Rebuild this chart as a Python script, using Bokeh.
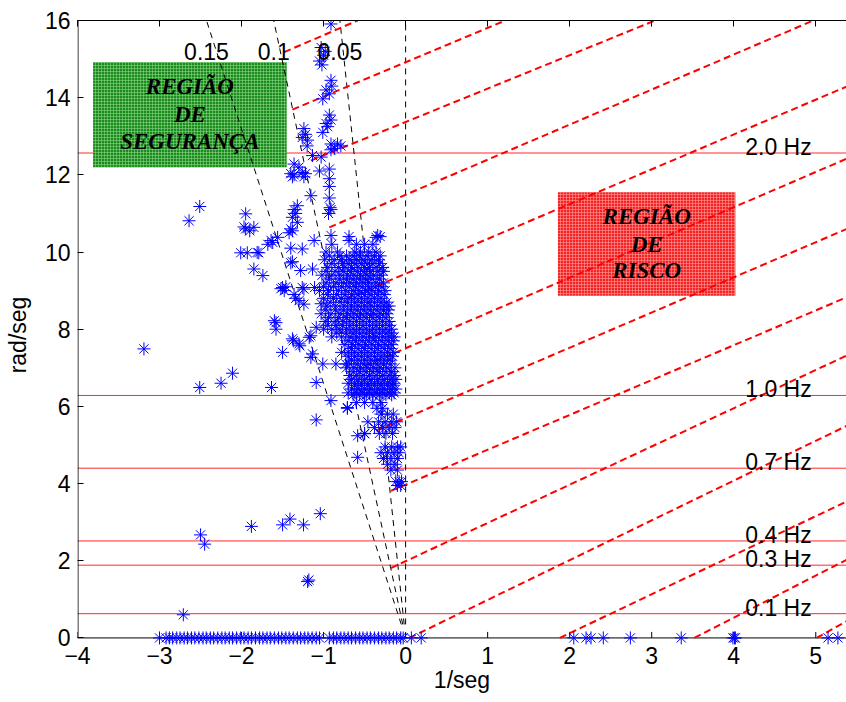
import math
from bokeh.plotting import figure
from bokeh.models import FixedTicker, LinearAxis, Range1d, Span
from bokeh.core.properties import value
from bokeh.embed import file_html
from bokeh.resources import INLINE

# ---------------- data ----------------
X_TICKS = [-4, -3, -2, -1, 0, 1, 2, 3, 4, 5]
Y_TICKS = [0, 2, 4, 6, 8, 10, 12, 14, 16]

freq_hz = [0.1, 0.3, 0.4, 0.7, 1.0, 2.0]
freq_labels = ["0.1 Hz", "0.3 Hz", "0.4 Hz", "0.7 Hz", "1.0 Hz", "2.0 Hz"]

zeta = [0.15, 0.1, 0.05, 0.0]
zeta_labels = ["0.15", "0.1", "0.05"]
zeta_w_start = 0.35
zeta_w_end = 16.0

# red dashed reference lines (start / end points)
rd_x0 = [-1.48, -1.38, -1.155, -0.93, -0.73, -0.50, -0.36, -0.18, -0.18, 0.045, 1.88, 3.52, 5.01]
rd_y0 = [15.18, 13.69, 12.37, 10.64, 8.78, 7.05, 5.37, 3.81, 1.81, 0.0, 0.0, 0.0, 0.0]
rd_x1 = [-0.585, 1.216, 3.04, 4.97, 5.39, 5.39, 5.39, 5.39, 5.39, 5.39, 5.39, 5.39, 5.39]
rd_y1 = [16.0, 16.0, 16.0, 16.0, 14.30, 12.43, 10.61, 8.84, 7.33, 5.51, 3.55, 2.04, 0.45]

# regions
safe_box = dict(left=-3.81, right=-1.45, bottom=12.2, top=14.92)
safe_text = ["REGIÃO", "DE", "SEGURANÇA"]
risk_box = dict(left=1.857, right=4.02, bottom=8.87, top=11.55)
risk_text = ["REGIÃO", "DE", "RISCO"]

# eigenvalues on the real axis (omega = 0)
band_sigma = [-3.0, -2.92, -2.88, -2.84, -2.79, -2.75, -2.7, -2.66, -2.61, -2.57, -2.52,
              -2.47, -2.43, -2.38, -2.34, -2.29, -2.24, -2.2, -2.15, -2.11, -2.06, -2.01,
              -1.97, -1.92, -1.88, -1.83, -1.78, -1.74, -1.69, -1.65, -1.6, -1.55, -1.51,
              -1.46, -1.42, -1.37, -1.32, -1.28, -1.23, -1.19, -1.14, -1.09, -1.05, -0.93,
              -0.88, -0.84, -0.79, -0.75, -0.7, -0.66, -0.61, -0.56, -0.52, -0.47, -0.43,
              -0.38, -0.33, -0.29, -0.24, -0.2, -0.15, -0.11, -0.06, -0.03, 0.07, 0.19,
              2.05, 2.2, 2.26, 2.41, 2.74, 3.36, 3.99, 4.01, 4.02, 5.15, 5.27]

# scattered oscillatory modes
outer_sigma = [-0.91, -1.03, -1.0, -1.05, -0.98, -1.02, -0.91, -0.9, -0.97, -1.01, -0.93,
               -0.93, -0.91, -0.97, -1.01, -0.95, -1.24, -1.22, -1.26, -1.195, -1.2,
               -0.91, -0.83, -0.87, -0.91, -0.79, -1.135, -1.03, -1.36, -1.30,
               -1.40, -1.36, -1.26, -1.22, -1.24, -1.38, -1.05, -0.93, -0.93, -0.93,
               -1.155, -0.93, -0.92, -0.94, -0.91, -1.36, -1.38, -1.32, -1.34,
               -1.40, -1.42, -1.32, -1.38, -0.91, -1.115, -0.69, -0.69, -0.34, -0.36, -0.31,
               -1.64, -1.68, -1.56, -1.62, -1.40, -1.26, -2.01, -1.93, -1.79,
               -1.95, -1.90, -1.97, -1.95, -2.64, -2.51, -1.85, -1.74, -1.40, -1.38,
               -1.28, -1.135, -1.85, -1.81, -1.50, -1.48, -1.52, -1.46,
               -1.36, -1.34, -1.30, -1.24, -1.26, -1.11, -1.24, -1.03, -1.58, -1.60, -1.58,
               -1.50, -1.37, -1.29, -1.38, -1.30, -1.175, -1.155, -1.09, -1.155, -1.135,
               -1.09, -1.01, -0.85, -0.73, -0.91, -1.09, -0.71, -0.585, -0.50, -0.585,
               -3.19, -2.51, -2.25, -2.11, -1.635,
               -2.50, -2.45, -1.88, -1.50, -1.41, -1.245, -1.04, -1.195, -1.18, -2.71]
outer_omega = [15.91, 15.3, 15.1, 14.95, 15.2, 14.85, 14.45, 14.3, 14.2, 13.97, 14.1,
               13.55, 13.42, 13.33, 13.1, 13.25, 13.2, 13.05, 12.97, 12.9, 12.75,
               12.8, 12.8, 12.68, 12.65, 12.75, 12.5, 12.46, 12.28, 12.2,
               12.03, 12.0, 12.06, 12.03, 11.95, 11.95, 12.1, 12.15, 11.9, 11.7,
               11.46, 11.4, 11.15, 11.0, 11.1, 11.1, 10.9, 11.2, 11.0,
               10.6, 10.5, 10.77, 10.55, 10.43, 10.3, 10.4, 10.3, 10.43, 10.38, 10.4,
               10.3, 10.2, 10.38, 10.25, 10.1, 10.08, 9.98, 9.98, 9.98,
               10.6, 10.55, 10.65, 10.99, 10.81, 11.18, 9.56, 9.39, 9.72, 9.75,
               9.52, 9.56, 10.64, 9.99, 9.08, 9.0, 9.05, 9.1,
               8.9, 8.8, 8.74, 8.65, 9.08, 9.08, 9.04, 8.66, 8.17, 8.22, 8.0,
               7.40, 7.70, 7.57, 7.75, 7.62, 7.79, 7.83, 8.05, 7.27, 7.36,
               6.62, 7.10, 7.10, 7.10, 6.15, 5.65, 5.97, 5.24, 5.29, 4.68,
               7.49, 6.49, 6.6, 6.86, 6.49,
               2.67, 2.43, 2.89, 2.93, 3.08, 2.93, 3.22, 1.46, 1.50, 0.60]

# dense cluster near the imaginary axis: one omega per row, sigmas in that row
dense_omega = [10.2, 10.0, 9.9, 9.8, 9.7, 9.6, 9.5, 9.4, 9.3, 9.2, 9.1, 9.0, 8.9, 8.8,
               8.7, 8.6, 8.5, 8.4, 8.3, 8.2, 8.1, 8.0, 7.9, 7.8, 7.7, 7.6, 7.5, 7.4,
               7.3, 7.2, 7.1, 7.0, 6.9, 6.8, 6.7, 6.6, 6.55, 6.45, 6.35, 6.3, 6.1, 5.95,
               5.8, 5.6, 5.45, 5.3, 4.95, 4.8, 4.65, 4.5, 4.35, 4.05, 3.95]
dense_sigma = [
    [-0.9, -0.6, -0.5, -0.4],
    [-0.97, -0.83, -0.62, -0.55, -0.45, -0.36],
    [-0.93, -0.8, -0.72, -0.64, -0.56, -0.47, -0.38, -0.31],
    [-0.99, -0.87, -0.78, -0.68, -0.6, -0.52, -0.42, -0.33],
    [-0.9, -0.77, -0.7, -0.62, -0.54, -0.46, -0.4, -0.32],
    [-0.95, -0.82, -0.74, -0.66, -0.58, -0.5, -0.44, -0.36, -0.28],
    [-0.97, -0.86, -0.76, -0.67, -0.59, -0.51, -0.43, -0.34, -0.27],
    [-1.02, -0.9, -0.8, -0.71, -0.63, -0.55, -0.47, -0.39, -0.3],
    [-0.93, -0.81, -0.72, -0.64, -0.56, -0.49, -0.41, -0.32],
    [-0.97, -0.85, -0.76, -0.68, -0.6, -0.52, -0.45, -0.36, -0.27],
    [-1.0, -0.88, -0.78, -0.69, -0.61, -0.53, -0.45, -0.37, -0.29],
    [-1.05, -0.94, -0.82, -0.73, -0.64, -0.57, -0.49, -0.41, -0.33, -0.25],
    [-0.95, -0.84, -0.74, -0.66, -0.58, -0.5, -0.42, -0.34, -0.26],
    [-1.0, -0.88, -0.78, -0.7, -0.62, -0.54, -0.46, -0.38, -0.3],
    [-0.92, -0.8, -0.71, -0.62, -0.54, -0.46, -0.38, -0.3, -0.23],
    [-0.96, -0.85, -0.75, -0.66, -0.58, -0.5, -0.42, -0.34, -0.26, -0.2],
    [-0.98, -0.86, -0.76, -0.67, -0.59, -0.51, -0.43, -0.35, -0.27, -0.21],
    [-1.03, -0.91, -0.8, -0.71, -0.63, -0.55, -0.47, -0.39, -0.31, -0.23],
    [-0.94, -0.82, -0.72, -0.64, -0.56, -0.48, -0.4, -0.32, -0.24],
    [-0.98, -0.86, -0.76, -0.68, -0.6, -0.52, -0.44, -0.36, -0.28, -0.2],
    [-0.95, -0.85, -0.77, -0.68, -0.6, -0.52, -0.44, -0.36, -0.28, -0.2],
    [-1.0, -0.9, -0.81, -0.72, -0.64, -0.56, -0.48, -0.4, -0.32, -0.24, -0.17],
    [-0.84, -0.73, -0.64, -0.56, -0.48, -0.4, -0.32, -0.24, -0.17],
    [-0.9, -0.78, -0.68, -0.6, -0.52, -0.44, -0.36, -0.28, -0.2, -0.14],
    [-0.7, -0.61, -0.53, -0.45, -0.37, -0.29, -0.21, -0.15],
    [-0.74, -0.65, -0.57, -0.49, -0.41, -0.33, -0.25, -0.17],
    [-0.66, -0.58, -0.5, -0.42, -0.34, -0.26, -0.19],
    [-0.78, -0.7, -0.62, -0.54, -0.46, -0.38, -0.3, -0.22, -0.15],
    [-0.7, -0.62, -0.54, -0.46, -0.38, -0.3, -0.22, -0.16],
    [-0.66, -0.58, -0.5, -0.42, -0.34, -0.26, -0.19],
    [-0.68, -0.59, -0.51, -0.43, -0.35, -0.27, -0.18],
    [-0.72, -0.63, -0.55, -0.47, -0.39, -0.31, -0.23, -0.13],
    [-0.64, -0.56, -0.48, -0.4, -0.32, -0.24, -0.17],
    [-0.68, -0.6, -0.52, -0.44, -0.36, -0.28, -0.2, -0.14],
    [-0.66, -0.58, -0.5, -0.42, -0.34, -0.26, -0.18, -0.12],
    [-0.7, -0.62, -0.54, -0.46, -0.38, -0.3, -0.22, -0.15],
    [-0.62, -0.54, -0.46, -0.38, -0.3, -0.22, -0.16],
    [-0.66, -0.58, -0.5, -0.42, -0.34, -0.26, -0.18, -0.12],
    [-0.7, -0.6, -0.52, -0.44, -0.36, -0.28, -0.2, -0.14],
    [-0.64, -0.56, -0.48, -0.4, -0.32, -0.24, -0.17],
    [-0.6, -0.5, -0.4, -0.3],
    [-0.71, -0.35, -0.28],
    [-0.3, -0.22, -0.15],
    [-0.46, -0.33, -0.25, -0.17, -0.11],
    [-0.38, -0.28, -0.2, -0.13],
    [-0.5, -0.32, -0.24, -0.16],
    [-0.25, -0.17, -0.1, -0.06],
    [-0.3, -0.22, -0.14, -0.08],
    [-0.27, -0.18, -0.1],
    [-0.22, -0.13],
    [-0.18, -0.1],
    [-0.12, -0.08, -0.05],
    [-0.1, -0.06],
]

# ---------------- figure ----------------
FONT = "Liberation Sans"
SERIF = "Liberation Serif"
FS = "23px"
PX_PER_X = 82.03
PX_PER_Y = 38.59
FRAME_W = 769
Y_MIN = -0.3
X_MAX = -4 + FRAME_W / PX_PER_X
FRAME_H = round((16 - Y_MIN) * PX_PER_Y)

p = figure(frame_width=FRAME_W, frame_height=FRAME_H,
           x_range=Range1d(-4, X_MAX), y_range=Range1d(Y_MIN, 16),
           output_backend="svg", toolbar_location=None,
           min_border_left=77, min_border_right=0, min_border_top=20,
           min_border_bottom=702 - 20 - FRAME_H)
p.outline_line_color = None
p.grid.visible = False
p.background_fill_color = "white"
p.border_fill_color = "white"

for ax in (p.xaxis[0], p.yaxis[0]):
    ax.major_tick_in = 6
    ax.major_tick_out = 0
    ax.minor_tick_in = 0
    ax.minor_tick_out = 0
    ax.axis_line_color = "black"
    ax.major_tick_line_color = "black"
    ax.major_label_text_font = FONT
    ax.major_label_text_font_size = FS
    ax.major_label_text_color = "black"
    ax.axis_label_text_font = FONT
    ax.axis_label_text_font_size = FS
    ax.axis_label_text_font_style = "normal"
    ax.axis_label_text_color = "black"

p.xaxis.ticker = FixedTicker(ticks=X_TICKS)
p.yaxis.ticker = FixedTicker(ticks=Y_TICKS)
p.xaxis.axis_label = "1/seg"
p.yaxis.axis_label = "rad/seg"
# the real axis (omega = 0) is drawn as data line so markers on it are not cut
p.xaxis.axis_line_color = None
p.xaxis.major_tick_line_color = None
p.xaxis.major_label_standoff = -3
p.xaxis.axis_label_standoff = 0
p.yaxis.axis_line_color = None
p.yaxis.major_label_standoff = 7
p.yaxis.axis_label_standoff = 11

top = LinearAxis(ticker=FixedTicker(ticks=[], minor_ticks=X_TICKS),
                 major_tick_in=0, major_tick_out=0,
                 minor_tick_in=6, minor_tick_out=0, minor_tick_line_color="black",
                 major_label_standoff=0, axis_line_color="black")
p.add_layout(top, "above")

# frequency lines (below every glyph, so the regions cover them)
omega_lines = [2 * math.pi * f for f in freq_hz]
for w in omega_lines:
    p.add_layout(Span(location=w, dimension="width", line_color="#ff2a2a",
                      line_width=1, level="underlay"))

# axis lines at omega = 0 and sigma = -4 (inside frame)
edge = 0.5 / PX_PER_X
p.segment(x0=[-4], y0=[0], x1=[X_MAX], y1=[0], line_color="black", line_width=1)
p.segment(x0=[-4 + edge], y0=[0], x1=[-4 + edge], y1=[16], line_color="black", line_width=1)
tick_len = 6 / PX_PER_Y
p.segment(x0=X_TICKS, y0=[0] * len(X_TICKS), x1=X_TICKS, y1=[tick_len] * len(X_TICKS),
          line_color="black", line_width=1)

# regions
p.quad(left=[safe_box["left"]], right=[safe_box["right"]], bottom=[safe_box["bottom"]],
       top=[safe_box["top"]], fill_color="#1b8c1b", line_color=None,
       hatch_pattern="+", hatch_color="#8fd88f", hatch_alpha=0.55, hatch_scale=3, hatch_weight=1)
p.quad(left=[risk_box["left"]], right=[risk_box["right"]], bottom=[risk_box["bottom"]],
       top=[risk_box["top"]], fill_color="#f42424", line_color=None,
       hatch_pattern="+", hatch_color="#ffa0a0", hatch_alpha=0.55, hatch_scale=3, hatch_weight=1)

# damping lines
zx0, zx1, zy0, zy1 = [], [], [], []
for z in zeta:
    k = z / math.sqrt(1 - z * z)
    zx0.append(-k * zeta_w_start)
    zx1.append(-k * zeta_w_end)
    zy0.append(zeta_w_start)
    zy1.append(zeta_w_end)
p.segment(x0=zx0, y0=zy0, x1=zx1, y1=zy1, line_color="black", line_width=1, line_dash="6 5")

# red dashed lines
p.segment(x0=rd_x0, y0=rd_y0, x1=rd_x1, y1=rd_y1, line_color="#ff0000", line_width=2,
          line_dash="7 4")

# eigenvalues
xs = list(band_sigma) + list(outer_sigma)
ys = [0.0] * len(band_sigma) + list(outer_omega)
for w, row in zip(dense_omega, dense_sigma):
    xs += row
    ys += [w] * len(row)
p.scatter(x=xs, y=ys, marker="asterisk", size=13, line_color="#0000ff", line_width=1)

# texts
p.text(x=[4.14] * len(freq_hz), y=omega_lines, text=freq_labels, text_font=value(FONT),
       text_font_size=FS, text_color="black", text_align="left",
       text_baseline="alphabetic", y_offset=-6)
zl_x = [-z / math.sqrt(1 - z * z) * zeta_w_end for z in zeta[:len(zeta_labels)]]
p.text(x=zl_x, y=[15.2] * len(zl_x), text=zeta_labels, text_font=value(FONT),
       text_font_size=FS, text_color="black", text_align="center",
       text_baseline="alphabetic")

for box, lines, offs in ((safe_box, safe_text, [-28, 0, 27]), (risk_box, risk_text, [-27, 1, 27])):
    cx = (box["left"] + box["right"]) / 2
    cy = (box["bottom"] + box["top"]) / 2
    p.text(x=[cx] * 3, y=[cy] * 3, text=lines, y_offset=offs, text_font=value(SERIF),
           text_font_size="23px", text_font_style="bold italic", text_color="black",
           text_align="center", text_baseline="middle")

open("out.html", "w").write(file_html(p, INLINE))
